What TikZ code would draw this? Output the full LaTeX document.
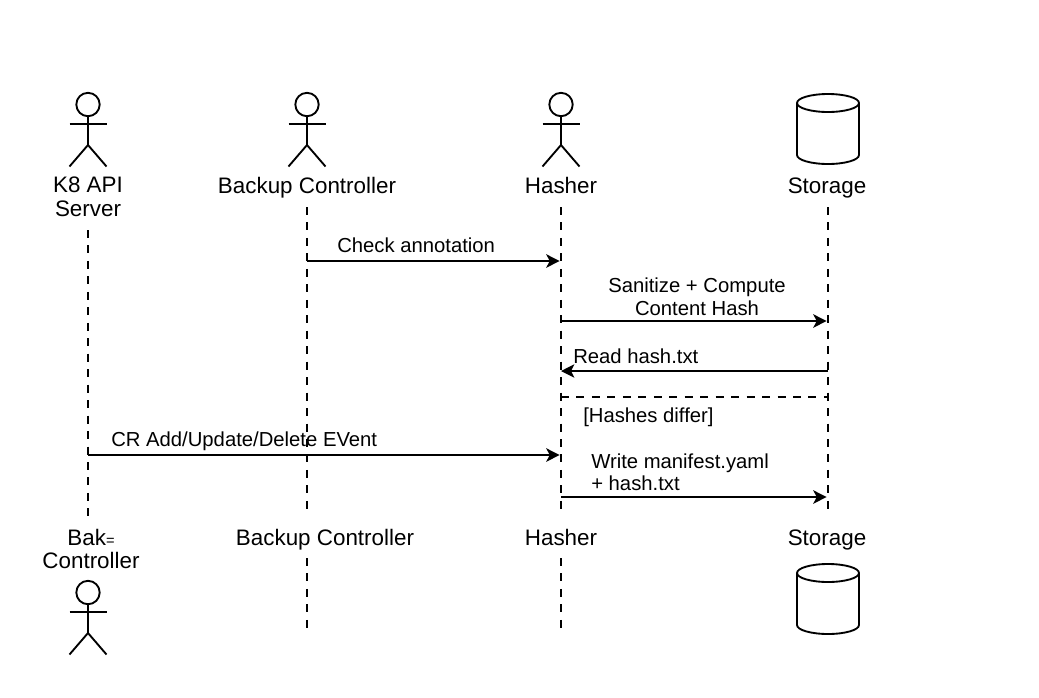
\documentclass[tikz,border=0pt]{standalone}
\usepackage{fontspec}
\setmainfont{Liberation Sans}
\usepackage{tikz}
\usetikzlibrary{arrows.meta}

\begin{document}
\begin{tikzpicture}[x=0.75pt, y=-0.75pt,
        % Define the looks that repeat
        actor/.pic={
            \draw[figure] (0,-62) circle (11.7);
            \draw[figure] (0,-50) -- (0,-21.5);
            \draw[figure] (-18.5,-42.5) -- (18.5,-42.5);
            \draw[figure] (-18.5,0) -- (0,-21.5) -- (18.5,0);
        },
        storage/.pic={
            \draw[figure] (-31,-61) -- (-31,-9) arc[start angle=180, end angle=0, x radius=31, y radius=9] -- (31,-61);
            \draw[figure] (0,-61) ellipse [x radius=31, y radius=9];
        },
        figure/.style={line width=1.4pt, black},
        lifeline/.style={line width=1.2pt, dash pattern=on 6pt off 5.6pt},
        message/.style={line width=1.4pt, shorten >=1pt, -{Stealth[length=10pt, width=10pt, inset=2.5pt]}},
        title/.style={font=\fontsize{16.8}{17.6}\selectfont, align=center, anchor=base, inner sep=0pt, outer sep=0pt},
        caption/.style={font=\fontsize{15.2}{16.6}\selectfont, align=left, inner sep=0pt}]

    \useasboundingbox (0,0) rectangle (1039,697);

    % 1. Mark the figures at the top and at the bottom
    \pic at (88,166.5) {actor};
    \pic at (307,166.5) {actor};
    \pic at (561,166.5) {actor};
    \pic at (828,164) {storage};
    \pic at (88,654.5) {actor};
    \pic at (828,634) {storage};

    % 2. The names (base of the last line)
    \node[title] (ApiTop) at (88,216) {K8 API\\Server};
    \node[title] (BackupTop) at (307,193) {Backup Controller};
    \node[title] (HasherTop) at (561,193) {Hasher};
    \node[title] (StorageTop) at (827,193) {Storage};
    \node[title] (ApiBot) at (91,568.5) {Bak{\fontsize{11}{11}\selectfont =}\\Controller};
    \node[title] (BackupBot) at (325,545) {Backup Controller};
    \node[title] (HasherBot) at (561,545) {Hasher};
    \node[title] (StorageBot) at (827,545) {Storage};

    % 3. Ends of the lifelines
    \coordinate (ApiStart) at (88,230);
    \coordinate (BackupStart) at (307,207);
    \coordinate (HasherStart) at (561,207);
    \coordinate (StorageStart) at (828,207);
    \coordinate (ApiEnd) at (88,516);
    \coordinate (BackupEnd) at (307,516);
    \coordinate (HasherEnd) at (561,516);
    \coordinate (StorageEnd) at (828,516);
    \coordinate (BackupMore) at (307,558);
    \coordinate (HasherMore) at (561,558);
    \coordinate (BackupLast) at (307,628);
    \coordinate (HasherLast) at (561,628);

    % 4. Draw the lifelines
    \draw[lifeline] (ApiStart) -- (ApiEnd);
    \draw[lifeline] (BackupStart) -- (BackupEnd);
    \draw[lifeline] (HasherStart) -- (HasherEnd);
    \draw[lifeline] (StorageStart) -- (StorageEnd);
    \draw[lifeline] (BackupMore) -- (BackupLast);
    \draw[lifeline] (HasherMore) -- (HasherLast);

    % 5. The messages
    \coordinate (Backup1) at (307,261);
    \coordinate (Hasher1) at (561,261);
    \coordinate (Hasher2) at (561,321);
    \coordinate (Storage2) at (828,321);
    \coordinate (Storage3) at (828,371);
    \coordinate (Hasher3) at (561,371);
    \coordinate (Hasher4) at (561,397);
    \coordinate (Storage4) at (828,397);
    \coordinate (Api5) at (88,455);
    \coordinate (Hasher5) at (561,455);
    \coordinate (Hasher6) at (561,497);
    \coordinate (Storage6) at (828,497);

    \draw[message] (Backup1) -- (Hasher1);
    \draw[message] (Hasher2) -- (Storage2);
    \draw[message, shorten >=0pt] (Storage3) -- (Hasher3);
    \draw[lifeline] (Hasher4) -- (Storage4);
    \draw[message] (Api5) -- (Hasher5);
    \draw[message] (Hasher6) -- (Storage6);

    % 6. The labels of the messages (base of the last line)
    \node[caption, anchor=base west] (CheckText) at (337,252) {Check annotation};
    \node[caption, anchor=base, align=center] (SanitizeText) at (697,315) {Sanitize + Compute\\Content Hash};
    \node[caption, anchor=base west] (ReadText) at (573,363) {Read hash.txt};
    \node[caption, anchor=base west] (DifferText) at (583,422) {[Hashes differ]};
    \node[caption, anchor=base west] (EventText) at (111,446) {CR Add/Update/Delete EVent};
    \node[caption, anchor=base west] (WriteText) at (591,490.5) {Write manifest.yaml\\+ hash.txt};

\end{tikzpicture}
\end{document}
